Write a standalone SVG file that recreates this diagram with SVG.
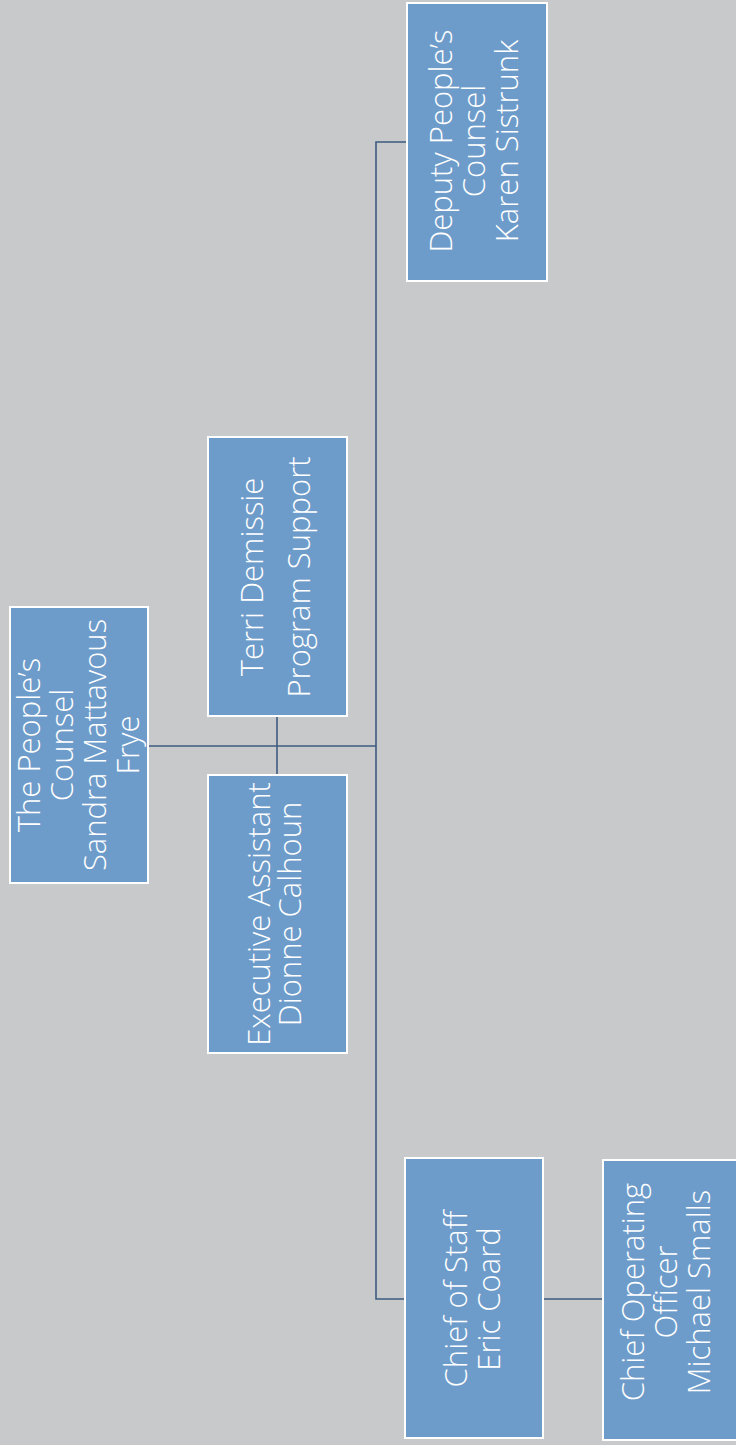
<svg xmlns="http://www.w3.org/2000/svg" width="736" height="1445" viewBox="0 0 736 1445">
<style>
.box{fill:#6e9cca;stroke:#ffffff;stroke-width:2}
.lbl{font-family:"Open Sans","Liberation Sans",sans-serif;font-weight:300;font-size:31px;fill:#ffffff;text-anchor:middle}
.conn{stroke:#3e5b80;stroke-width:1.6;fill:none}
</style>
<rect x="0" y="0" width="736" height="1445" fill="#c7c9ca"/>
<g id="connectors">
<path class="conn" d="M148,746 H376"/>
<path class="conn" d="M277,716 V775"/>
<path class="conn" d="M406,142 H376 V1299 H405"/>
<path class="conn" d="M544,1299 H603"/>
</g>
<g id="peoples-counsel">
<rect class="box" x="10" y="607" width="138" height="276"/>
<text class="lbl" transform="translate(0,745) rotate(-90)"><tspan x="0" y="40">The People’s</tspan><tspan x="0" y="73">Counsel</tspan><tspan x="0" y="106">Sandra Mattavous</tspan><tspan x="0" y="139">Frye</tspan></text>
</g>
<g id="terri-demissie">
<rect class="box" x="208" y="437" width="139" height="279"/>
<text class="lbl" transform="translate(0,577) rotate(-90)"><tspan x="0" y="263">Terri Demissie</tspan><tspan x="0" y="310">Program Support</tspan></text>
</g>
<g id="executive-assistant">
<rect class="box" x="208" y="775" width="139" height="278"/>
<text class="lbl" transform="translate(0,914) rotate(-90)"><tspan x="0" y="270">Executive Assistant</tspan><tspan x="0" y="301">Dionne Calhoun</tspan></text>
</g>
<g id="deputy-peoples-counsel">
<rect class="box" x="407" y="3" width="140" height="278"/>
<text class="lbl" transform="translate(0,141) rotate(-90)"><tspan x="0" y="452">Deputy People’s</tspan><tspan x="0" y="485">Counsel</tspan><tspan x="0" y="518">Karen Sistrunk</tspan></text>
</g>
<g id="chief-of-staff">
<rect class="box" x="405" y="1158" width="138" height="280"/>
<text class="lbl" transform="translate(0,1299) rotate(-90)"><tspan x="0" y="467">Chief of Staff</tspan><tspan x="0" y="500">Eric Coard</tspan></text>
</g>
<g id="chief-operating-officer">
<rect class="box" x="603" y="1160" width="140" height="280"/>
<text class="lbl" transform="translate(0,1292) rotate(-90)"><tspan x="0" y="644">Chief Operating</tspan><tspan x="0" y="677">Officer</tspan><tspan x="0" y="710">Michael Smalls</tspan></text>
</g>
</svg>
